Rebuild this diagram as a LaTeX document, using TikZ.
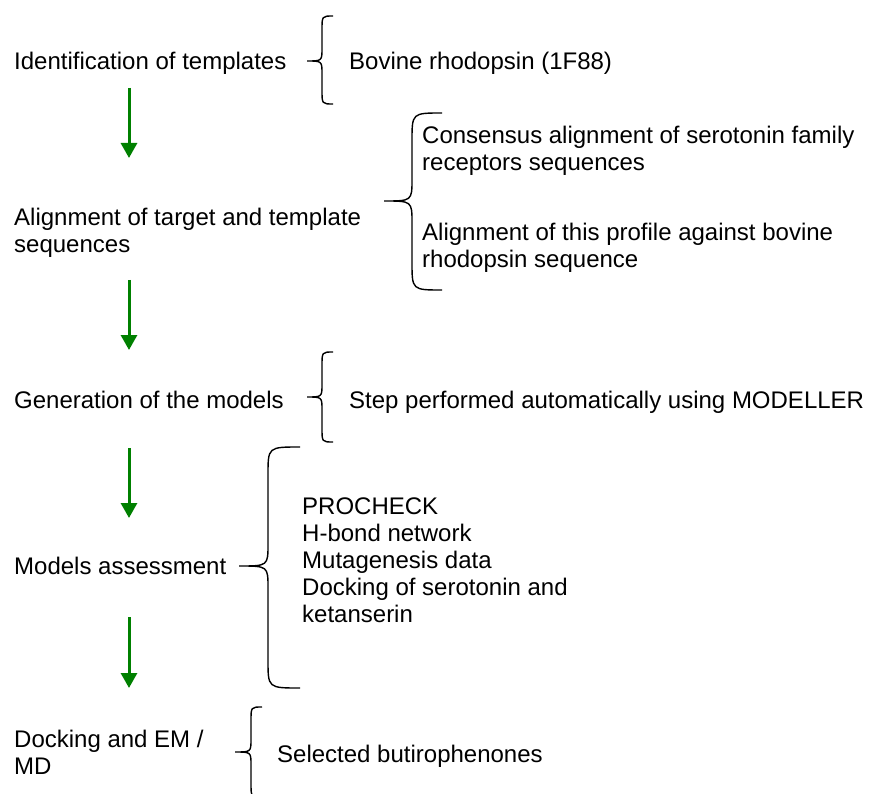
\documentclass[tikz,border=0pt]{standalone}
\usepackage{fontspec}
\setmainfont{Liberation Sans}
\usetikzlibrary{arrows.meta}
\definecolor{arrgreen}{RGB}{0,128,0}
\newcommand\mybrace[8]{%
  \draw[brc] (#3,#4) .. controls (#2,#4) .. (#2,#4+#7) -- (#2,#5-#8)
    .. controls (#2,#5) .. (#1,#5) .. controls (#2,#5) .. (#2,#5+#8)
    -- (#2,#6-#7) .. controls (#2,#6) .. (#3,#6);}
\tikzset{
  txt/.style={anchor=base west, inner sep=0pt, align=left, font=\fontsize{24}{27}\selectfont},
  txtlist/.style={anchor=base west, inner sep=0pt, align=left, font=\fontsize{24}{26.8}\selectfont},
  flow/.style={draw=arrgreen, line width=3pt, -{Triangle[length=15pt,width=16pt]}},
  brc/.style={draw=black, line width=1.4pt},
}
\begin{document}
\begin{tikzpicture}[x=1pt,y=-1pt]
\useasboundingbox (0,0) rectangle (870,794);
% left column (multi-line nodes are placed by the baseline of their last line)
\node[txt] (s1) at (14,70) {Identification of templates};
\node[txt] (s2) at (14,253) {Alignment of target and template\\sequences};
\node[txt] (s3) at (14,408) {Generation of the models};
\node[txt] (s4) at (14,574) {Models assessment};
\node[txt] (s5) at (14,774) {Docking and EM /\\MD};
% right column
\node[txt] (d1) at (349,70) {Bovine rhodopsin (1F88)};
\node[txt] (d2a) at (422,171) {Consensus alignment of serotonin family\\receptors sequences};
\node[txt] (d2b) at (422,268) {Alignment of this profile against bovine\\rhodopsin sequence};
\node[txt] (d3) at (349,408) {Step performed automatically using MODELLER};
\node[txtlist] (d4) at (302,622) {PROCHECK\\H-bond network\\Mutagenesis data\\Docking of serotonin and\\ketanserin};
\node[txt] (d5) at (277,762) {Selected butirophenones};
% arrows
\coordinate (a1s) at (129,88);  \coordinate (a1e) at (129,158);
\coordinate (a2s) at (129,280); \coordinate (a2e) at (129,350);
\coordinate (a3s) at (129,448); \coordinate (a3e) at (129,518);
\coordinate (a4s) at (129,617); \coordinate (a4e) at (129,688);
\draw[flow] (a1s) -- (a1e);
\draw[flow] (a2s) -- (a2e);
\draw[flow] (a3s) -- (a3e);
\draw[flow] (a4s) -- (a4e);
% braces
\mybrace{307}{322}{333}{16}{61}{104}{14}{13}
\mybrace{384}{412}{442}{113}{201}{290}{28}{22}
\mybrace{307}{322}{333}{352}{397}{442}{14}{13}
\mybrace{239}{268}{300}{447}{566}{688}{28}{22}
\mybrace{235}{251}{262}{707}{752}{797}{14}{13}
\end{tikzpicture}
\end{document}
